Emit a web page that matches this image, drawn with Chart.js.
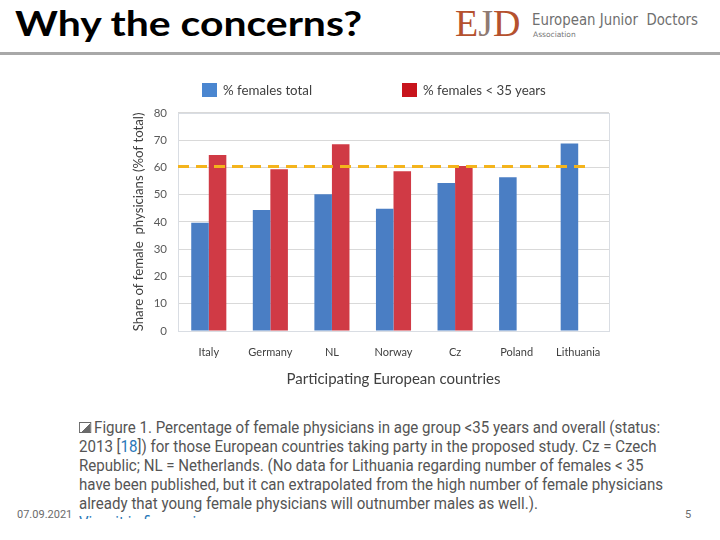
<!DOCTYPE html>
<html>
<head>
<meta charset="utf-8">
<script src="https://cdn.jsdelivr.net/npm/chart.js@4.4.1/dist/chart.umd.min.js"></script>
<style>
  html, body { margin: 0; padding: 0; background: #fff; }
  body { width: 720px; height: 540px; position: relative; overflow: hidden; font-family: Lato, sans-serif; }
  #title { position: absolute; left: 15px; top: 5px; font: 700 35px/35px Lato, sans-serif; color: #000; white-space: nowrap; transform-origin: left top; }
  #rule { position: absolute; left: 0; top: 52px; width: 720px; height: 3px; background: #a8a8a8; }
  #ejd { position: absolute; left: 455px; top: 4px; font: 38px/38px "Liberation Serif", serif; color: #b5512e; white-space: nowrap; }
  #ejd .j { color: #8f7a72; }
  #assoc1 { position: absolute; left: 532px; top: 12px; font: 15px/17px "DejaVu Sans", sans-serif; color: #6f6f6f; white-space: nowrap; transform-origin: left top; }
  #assoc2 { position: absolute; left: 533px; top: 30px; font: 7.5px/9px "DejaVu Sans", sans-serif; color: #777; white-space: nowrap; }
  #chartBox { position: absolute; left: 120px; top: 95px; width: 500px; height: 300px; }
  .legItem { position: absolute; top: 83px; height: 14px; white-space: nowrap; font: 13.3px/14px Lato, sans-serif; color: #404040; }
  .legItem i { position: absolute; left: 0; top: 0; width: 15px; height: 14px; }
  .legItem span { position: absolute; left: 21px; top: 0; }
  #caption { position: absolute; left: 79px; top: 418px; height: 101px; overflow: hidden; width: 640px; }
  #capInner { font: 16px/19px Roboto, sans-serif; color: #555; white-space: nowrap; transform-origin: left top; display: inline-block; }
  #capInner .ln { display: block; }
  #capInner .ref { color: #2a78b8; }
  #capInner .view { color: #2a78b8; }
  .icon { display: inline-block; width: 11px; height: 9px; border: 1px solid #6a6a6a; margin-right: 3px; position: relative; top: 0px; background: linear-gradient(135deg, #fff 55%, #6a6a6a 56%); }
  #date { position: absolute; left: 17px; top: 508px; font: 11px/14px Roboto, sans-serif; color: #6b6b6b; }
  #page { position: absolute; left: 685px; top: 508px; font: 11px/14px Roboto, sans-serif; color: #6b6b6b; }
</style>
</head>
<body>
<div id="title">Why the concerns?</div>
<div id="ejd">E<span class="j">J</span>D</div>
<div id="assoc1">European Junior&nbsp; Doctors</div>
<div id="assoc2">Association</div>
<div id="rule"></div>

<div id="chartBox"><canvas id="chart"></canvas></div>
<div id="legend"></div>

<div id="caption"><div id="capInner">
  <span class="ln"><span class="icon"></span>Figure 1. Percentage of female physicians in age group &lt;35 years and overall (status:</span>
  <span class="ln">2013 [<span class="ref">18</span>]) for those European countries taking party in the proposed study. Cz = Czech</span>
  <span class="ln">Republic; NL = Netherlands. (No data for Lithuania regarding number of females &lt; 35</span>
  <span class="ln" id="line4">have been published, but it can extrapolated from the high number of female physicians</span>
  <span class="ln">already that young female physicians will outnumber males as well.).</span>
  <span class="ln view">View it in figure viewer</span>
</div></div>
<div id="date">07.09.2021</div>
<div id="page">5</div>

<script>
const countries = ['Italy', 'Germany', 'NL', 'Norway', 'Cz', 'Poland', 'Lithuania'];
const femalesTotal = [39.7, 44.4, 50.2, 44.8, 54.3, 56.4, 68.8];
const femalesUnder35 = [64.6, 59.3, 68.5, 58.6, 60.5, null, null];
const referenceLevel = 60.3;
const seriesNames = ['% females total', '% females < 35 years'];
const barColors = ['#4a7ec4', '#d03a45'];
const legendColors = ['#4a86d0', '#c8141c'];
const legendLeft = [202, 402];

// legend built from the series names
const legendEl = document.getElementById('legend');
seriesNames.forEach((name, i) => {
  const item = document.createElement('div');
  item.className = 'legItem';
  item.style.left = legendLeft[i] + 'px';
  item.innerHTML = '<i style="background:' + legendColors[i] + '"></i><span></span>';
  item.querySelector('span').textContent = name;
  legendEl.appendChild(item);
});

// light frame around the plot area
const plotFrame = {
  id: 'plotFrame',
  beforeDatasetsDraw(chart) {
    const { ctx, chartArea } = chart;
    ctx.save();
    ctx.strokeStyle = '#d9dde3';
    ctx.lineWidth = 1;
    ctx.strokeRect(Math.round(chartArea.left) + 0.5, Math.round(chartArea.top) + 0.5,
      Math.round(chartArea.width), Math.round(chartArea.height));
    ctx.restore();
  },
};

// dashed 60% reference line
const levelLine = {
  id: 'levelLine',
  afterDatasetsDraw(chart) {
    const { ctx, chartArea, scales } = chart;
    const y = scales.y.getPixelForValue(referenceLevel);
    const xEnd = scales.x.getPixelForValue(countries.length - 1) + 10;
    ctx.save();
    ctx.strokeStyle = '#f4b41c';
    ctx.lineWidth = 3;
    ctx.setLineDash([11, 7]);
    ctx.beginPath();
    ctx.moveTo(chartArea.left, y);
    ctx.lineTo(xEnd, y);
    ctx.stroke();
    ctx.restore();
  },
};

new Chart(document.getElementById('chart').getContext('2d'), {
  type: 'bar',
  data: {
    labels: countries,
    datasets: [
      { label: seriesNames[0], data: femalesTotal, backgroundColor: barColors[0], borderWidth: 0 },
      { label: seriesNames[1], data: femalesUnder35, backgroundColor: barColors[1], borderWidth: 0 },
    ],
  },
  options: {
    responsive: true,
    maintainAspectRatio: false,
    animation: false,
    events: [],
    categoryPercentage: 0.57,
    barPercentage: 1.0,
    layout: { padding: { top: 10, right: 11, left: 0, bottom: 0 } },
    plugins: {
      legend: { display: false },
      tooltip: { enabled: false },
    },
    scales: {
      x: {
        grid: { display: false },
        border: { display: false },
        ticks: { padding: 7, color: '#404040', font: { family: 'Lato', size: 11 }, maxRotation: 0 },
        title: {
          display: true,
          text: 'Participating European countries',
          color: '#404040',
          font: { family: 'Lato', size: 15 },
          padding: { top: 0, bottom: 7 },
        },
        afterFit(scale) { scale.height = 64; },
      },
      y: {
        min: 0,
        max: 80,
        ticks: { stepSize: 10, padding: 11, color: '#595959', font: { family: 'Lato', size: 11.5 } },
        grid: { color: '#d9d9d9', drawTicks: false },
        border: { display: false },
        title: {
          display: true,
          text: 'Share of female  physicians (%of total)',
          color: '#404040',
          font: { family: 'Lato', size: 13.2 },
          padding: { top: 11, bottom: 0 },
        },
        afterFit(scale) { scale.width = 58; },
      },
    },
  },
  plugins: [plotFrame, levelLine],
});

// squeeze text blocks to the widths seen on the slide
function fitWidth(el, target) {
  const w = el.getBoundingClientRect().width;
  el.style.transform = 'scaleX(' + (target / w) + ')';
}
fitWidth(document.getElementById('title'), 347);
fitWidth(document.getElementById('assoc1'), 166);
const line4 = document.getElementById('line4');
const capScale = 584 / line4.getBoundingClientRect().width;
document.getElementById('capInner').style.transform = 'scaleX(' + capScale + ')';
</script>
</body>
</html>
